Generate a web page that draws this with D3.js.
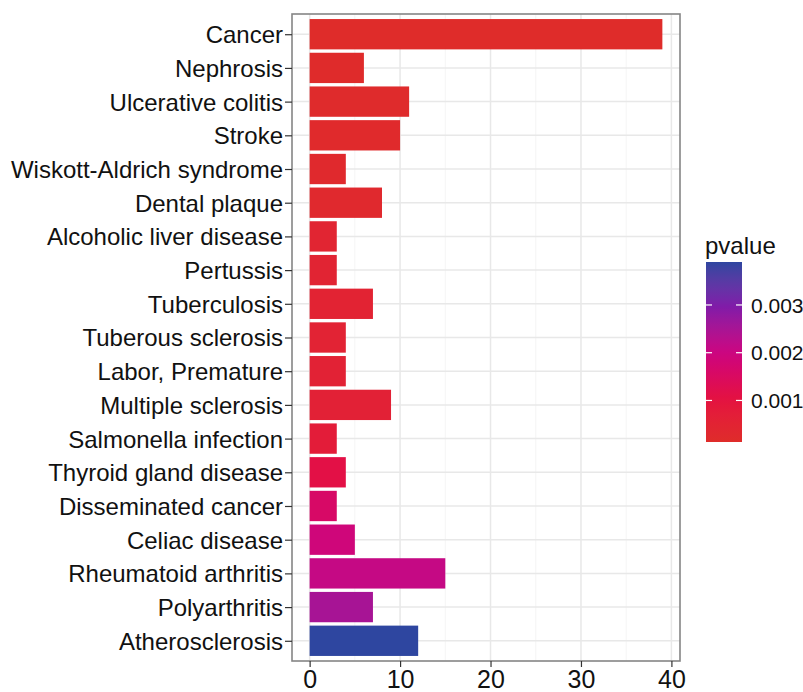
<!DOCTYPE html>
<html>
<head>
<meta charset="utf-8">
<script src="https://cdn.jsdelivr.net/npm/d3@7"></script>
<style>
  body { margin: 0; background: #fff; }
  text { font-family: "Liberation Sans", Arial, sans-serif; }
</style>
</head>
<body>
<svg id="chart" width="803" height="692"></svg>
<script>
// disease terms, top to bottom
const terms = ["Cancer", "Nephrosis", "Ulcerative colitis", "Stroke", "Wiskott-Aldrich syndrome",
  "Dental plaque", "Alcoholic liver disease", "Pertussis", "Tuberculosis", "Tuberous sclerosis",
  "Labor, Premature", "Multiple sclerosis", "Salmonella infection", "Thyroid gland disease",
  "Disseminated cancer", "Celiac disease", "Rheumatoid arthritis", "Polyarthritis", "Atherosclerosis"]
const counts = [39, 6, 11, 10, 4, 8, 3, 3, 7, 4, 4, 9, 3, 4, 3, 5, 15, 7, 12]
const pvalues = [0.00013, 0.00016, 0.0002, 0.00022, 0.00025, 0.00028, 0.00045, 0.00047, 0.0005,
  0.00052, 0.00055, 0.0006, 0.00075, 0.0011, 0.0016, 0.0019, 0.0021, 0.0025, 0.0039]
const xTicks = [0, 10, 20, 30, 40]
const xMinor = [5, 15, 25, 35]
const legendTicks = [0.001, 0.002, 0.003]

// colour ramp
const rampP = [d3.min(pvalues), 0.001, 0.002, 0.003, d3.max(pvalues)]
const rampColors = ["#df2c2a", "#e5123f", "#cc0580", "#7d1caa", "#2e46a0"]

let data = terms.map((t, i) => ({ term: t, count: counts[i], p: pvalues[i] }))

const svg = d3.select("#chart")
const panel = { left: 292, right: 680, top: 14, bottom: 661 }

let xMax = d3.max(counts)
let pad = xMax * 0.05
let x = d3.scaleLinear().domain([-pad, xMax + pad]).range([panel.left, panel.right])
let y = d3.scalePoint().domain(terms).range([panel.top, panel.bottom]).padding(0.6)
let barH = y.step() * 0.9

let color = d3.scaleLinear().domain(rampP).range(rampColors).interpolate(d3.interpolateLab)

// grid
svg.append("g").selectAll("line.minor")
  .data(xMinor)
  .join("line")
  .attr("x1", d => x(d)).attr("x2", d => x(d))
  .attr("y1", panel.top).attr("y2", panel.bottom)
  .style("stroke", "#f2f2f2").style("stroke-width", 0.8)

svg.append("g").selectAll("line.major")
  .data(xTicks)
  .join("line")
  .attr("x1", d => x(d)).attr("x2", d => x(d))
  .attr("y1", panel.top).attr("y2", panel.bottom)
  .style("stroke", "#e8e8e8").style("stroke-width", 1.5)

svg.append("g").selectAll("line")
  .data(terms)
  .join("line")
  .attr("x1", panel.left).attr("x2", panel.right)
  .attr("y1", d => y(d)).attr("y2", d => y(d))
  .style("stroke", "#e8e8e8").style("stroke-width", 1.5)

// bars
svg.append("g").selectAll("rect")
  .data(data)
  .join("rect")
  .attr("x", x(0))
  .attr("y", d => y(d.term) - barH / 2)
  .attr("width", d => x(d.count) - x(0))
  .attr("height", barH)
  .style("fill", d => color(d.p))

// panel border
svg.append("rect")
  .attr("x", panel.left).attr("y", panel.top)
  .attr("width", panel.right - panel.left)
  .attr("height", panel.bottom - panel.top)
  .style("fill", "none").style("stroke", "#858585").style("stroke-width", 1.6)

// axes
let xAxis = svg.append("g")
  .attr("transform", `translate(0,${panel.bottom})`)
  .call(d3.axisBottom(x).tickValues(xTicks).tickSize(6).tickPadding(3))
xAxis.select(".domain").remove()
xAxis.selectAll("line").style("stroke", "#333").style("stroke-width", 1.2)
xAxis.selectAll("text").style("font-size", "25px").style("fill", "#111")

let yAxis = svg.append("g")
  .attr("transform", `translate(${panel.left},0)`)
  .call(d3.axisLeft(y).tickSize(7).tickPadding(2))
yAxis.select(".domain").remove()
yAxis.selectAll("line").style("stroke", "#333").style("stroke-width", 1.2)
yAxis.selectAll("text").style("font-size", "24px").style("fill", "#111").attr("dy", "0.35em")

// legend
const leg = { x: 706, w: 36, top: 262, bottom: 442 }
let defs = svg.append("defs")
let grad = defs.append("linearGradient").attr("id", "pgrad")
  .attr("x1", 0).attr("y1", 1).attr("x2", 0).attr("y2", 0)
let gStops = d3.range(0, 1.0001, 0.05)
let pRange = d3.extent(pvalues)
grad.selectAll("stop")
  .data(gStops)
  .join("stop")
  .attr("offset", d => d)
  .attr("stop-color", d => color(pRange[0] + d * (pRange[1] - pRange[0])))

let ly = d3.scaleLinear().domain(pRange).range([leg.bottom, leg.top])

svg.append("rect")
  .attr("x", leg.x).attr("y", leg.top)
  .attr("width", leg.w).attr("height", leg.bottom - leg.top)
  .style("fill", "url(#pgrad)")

let lt = svg.append("g").selectAll("g")
  .data(legendTicks)
  .join("g")
lt.append("line")
  .attr("x1", leg.x).attr("x2", leg.x + 6)
  .attr("y1", d => ly(d)).attr("y2", d => ly(d))
  .style("stroke", "#fff").style("stroke-width", 1.2)
lt.append("line")
  .attr("x1", leg.x + leg.w - 6).attr("x2", leg.x + leg.w)
  .attr("y1", d => ly(d)).attr("y2", d => ly(d))
  .style("stroke", "#fff").style("stroke-width", 1.2)
lt.append("text")
  .attr("x", leg.x + leg.w + 9)
  .attr("y", d => ly(d))
  .attr("dy", "0.36em")
  .style("font-size", "21px")
  .style("fill", "#111")
  .text(d => d3.format(".3f")(d))

svg.append("text")
  .attr("x", leg.x - 1).attr("y", 254)
  .style("font-size", "24px").style("fill", "#111")
  .text("pvalue")
</script>
</body>
</html>
